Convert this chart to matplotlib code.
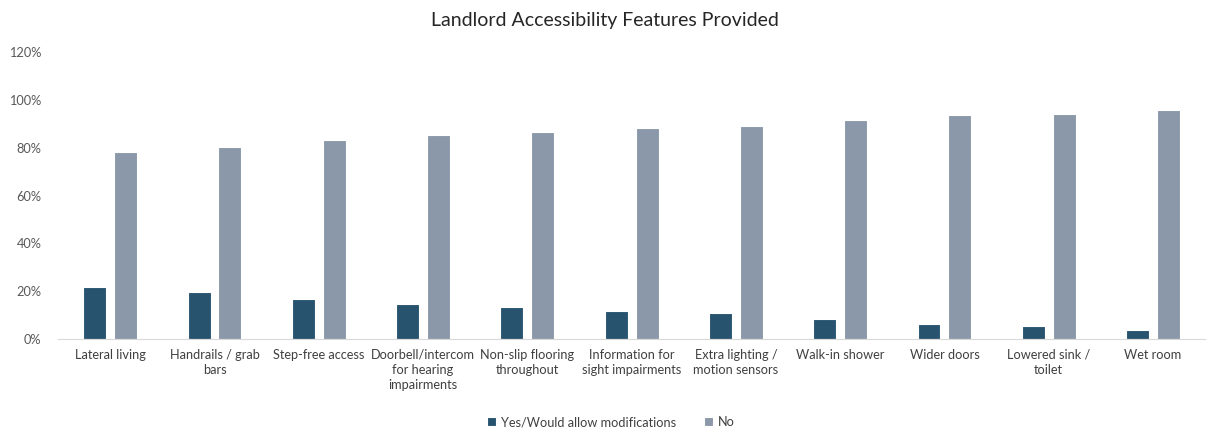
import numpy as np
import matplotlib.pyplot as plt
from matplotlib.ticker import PercentFormatter

features = ['Lateral living', 'Handrails / grab\nbars', 'Step-free access',
            'Doorbell/intercom\nfor hearing\nimpairments', 'Non-slip flooring\nthroughout',
            'Information for\nsight impairments', 'Extra lighting /\nmotion sensors',
            'Walk-in shower', 'Wider doors', 'Lowered sink /\ntoilet', 'Wet room']
yes_vals = [21.8, 19.8, 16.8, 14.8, 13.3, 11.7, 10.8, 8.5, 6.5, 5.6, 4.0]
no_vals = [78.2, 80.2, 83.2, 85.2, 86.7, 88.3, 89.2, 91.5, 93.5, 94.2, 95.6]
series_names = ['Yes/Would allow modifications', 'No']

plt.rcParams['font.family'] = ['Lato', 'DejaVu Sans']

fig = plt.figure(figsize=(12.1, 4.4), dpi=100)
ax = fig.add_axes([0.048, 0.229, 0.948, 0.653])

x = np.arange(len(features))
w = 0.22
ax.bar(x - 0.148, yes_vals, w, color='#28536f', edgecolor='white', linewidth=0.8, label=series_names[0])
ax.bar(x + 0.148, no_vals, w, color='#8a98a9', edgecolor='white', linewidth=0.8, label=series_names[1])

ax.set_xlim(-0.5, len(features) - 0.5)
ax.set_ylim(0, 120)
ax.set_yticks(range(0, 121, 20))
ax.yaxis.set_major_formatter(PercentFormatter(decimals=0))
ax.set_xticks(x)
ax.set_xticklabels(features, fontsize=9.2, color='#404040', linespacing=1.3)
ax.tick_params(axis='y', length=0, labelsize=9.2, labelcolor='#595959', pad=12)
ax.tick_params(axis='x', length=0, pad=7)
for s in ['top', 'right', 'left']:
    ax.spines[s].set_visible(False)
ax.spines['bottom'].set_color('#d9d9d9')

fig.text(0.5, 0.953, 'Landlord Accessibility Features Provided', ha='center', va='center',
         fontsize=14, color='#262626')
fig.legend(loc='center', bbox_to_anchor=(0.505, 0.04), ncol=2, frameon=False,
           fontsize=9.2, handlelength=0.7, handleheight=0.7, columnspacing=2.2,
           handletextpad=0.4, labelcolor='#404040')

fig.savefig('out.png', dpi=100)
